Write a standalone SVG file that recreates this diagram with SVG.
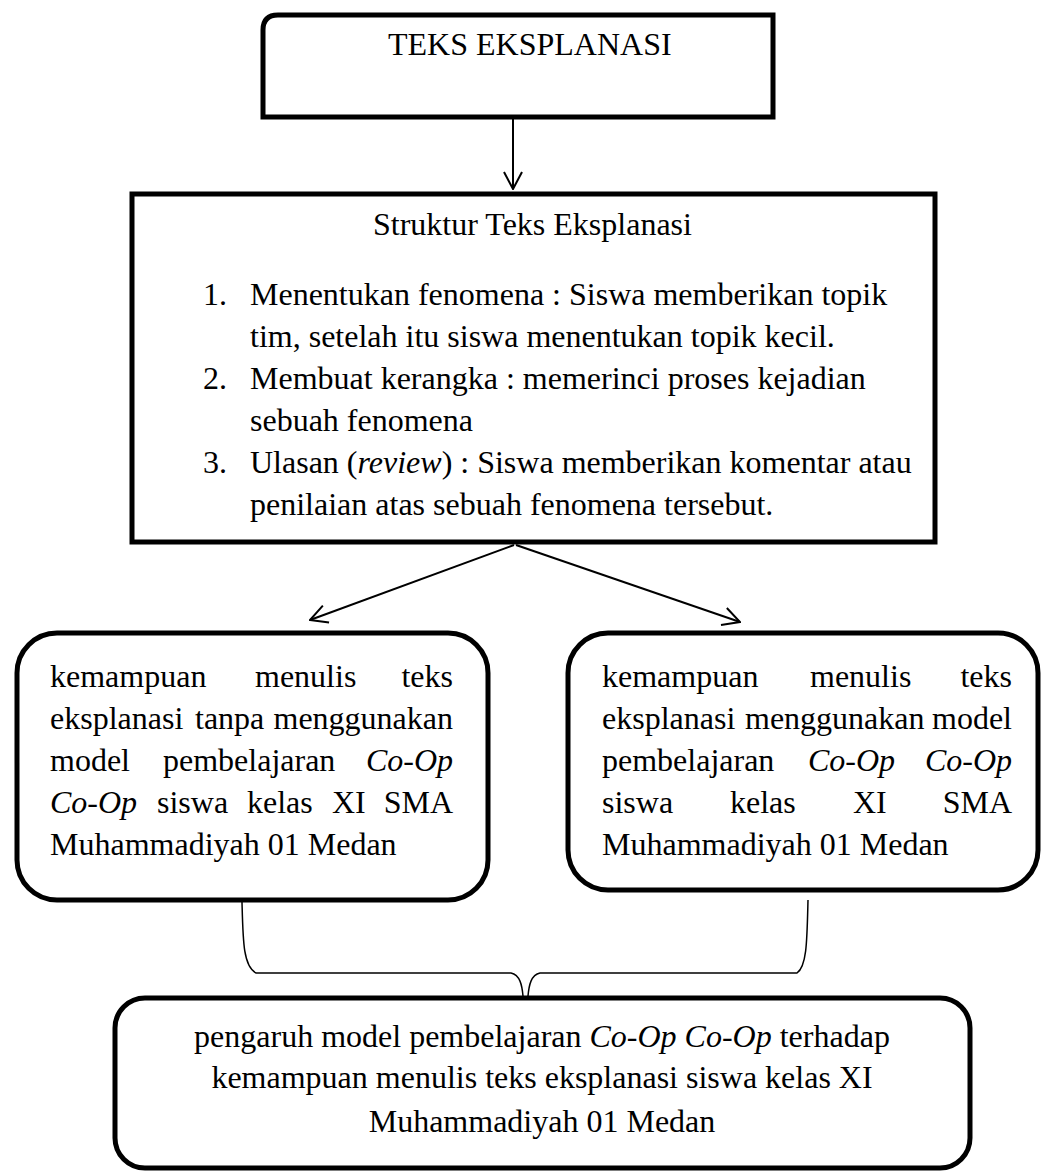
<svg xmlns="http://www.w3.org/2000/svg" width="1041" height="1171" viewBox="0 0 1041 1171">
<style>
  text { font-family: "Liberation Serif", "Times New Roman", serif; font-size: 32px; fill: #000; }
  .box { fill: #fff; stroke: #000; stroke-width: 5; }
  .conn { fill: none; stroke: #000; stroke-width: 2; }
  .brace { fill: none; stroke: #000; stroke-width: 1.5; }
  .it { font-style: italic; }
  .end { text-anchor: end; }
</style>
<defs>
  <marker id="arr" viewBox="0 0 20 20" refX="19" refY="10" markerWidth="20" markerHeight="20" markerUnits="userSpaceOnUse" orient="auto">
    <path d="M2,1 L19,10 L2,19" fill="none" stroke="#000" stroke-width="2"/>
  </marker>
</defs>
<rect width="1041" height="1171" fill="#fff"/>

<g id="connectors">
  <line class="conn" x1="513" y1="117" x2="513" y2="189" marker-end="url(#arr)"/>
  <line class="conn" x1="514" y1="545" x2="310" y2="620" marker-end="url(#arr)"/>
  <line class="conn" x1="516" y1="545" x2="740" y2="622" marker-end="url(#arr)"/>
  <path class="brace" d="M242,902 C243,940 243,966 256,973 L511,973 C520,975 522,985 523,996 M528,996 C529,985 531,975 540,973 L797,973 C807,966 807,940 808,900"/>
</g>

<g id="node-top">
  <path class="box" d="M263,117 L263,30 Q263,15 278,15 L773,15 L773,117 Z"/>
  <text x="388" y="55">TEKS EKSPLANASI</text>
</g>

<g id="node-struktur">
  <rect class="box" x="132" y="194" width="803" height="348"/>
  <text x="373" y="235">Struktur Teks Eksplanasi</text>
  <text x="203" y="305">1.</text>
  <text x="250" y="305">Menentukan fenomena : Siswa memberikan topik</text>
  <text x="250" y="347">tim, setelah itu siswa menentukan topik kecil.</text>
  <text x="203" y="389">2.</text>
  <text x="250" y="389">Membuat kerangka : memerinci proses kejadian</text>
  <text x="250" y="431">sebuah fenomena</text>
  <text x="203" y="473">3.</text>
  <text x="250" y="473">Ulasan (<tspan class="it">review</tspan>) : Siswa memberikan komentar atau</text>
  <text x="250" y="515">penilaian atas sebuah fenomena tersebut.</text>
</g>

<g id="node-left">
  <rect class="box" x="17" y="633" width="471" height="267" rx="40" ry="40"/>
  <text x="50" y="687">kemampuan</text>
  <text x="255" y="687">menulis</text>
  <text class="end" x="453" y="687">teks</text>
  <text x="50" y="729">eksplanasi</text>
  <text x="195" y="729">tanpa</text>
  <text class="end" x="453" y="729">menggunakan</text>
  <text x="50" y="771">model</text>
  <text x="163" y="771">pembelajaran</text>
  <text class="end it" x="453" y="771">Co-Op</text>
  <text class="it" x="50" y="813">Co-Op</text>
  <text x="157" y="813">siswa</text>
  <text x="247" y="813">kelas</text>
  <text x="332" y="813">XI</text>
  <text class="end" x="453" y="813">SMA</text>
  <text x="50" y="855">Muhammadiyah 01 Medan</text>
</g>

<g id="node-right">
  <rect class="box" x="568" y="633" width="470" height="257" rx="40" ry="40"/>
  <text x="602" y="687">kemampuan</text>
  <text x="810" y="687">menulis</text>
  <text class="end" x="1012" y="687">teks</text>
  <text x="602" y="729">eksplanasi</text>
  <text x="745" y="729">menggunakan</text>
  <text class="end" x="1012" y="729">model</text>
  <text x="602" y="771">pembelajaran</text>
  <text class="it" x="808" y="771">Co-Op</text>
  <text class="end it" x="1012" y="771">Co-Op</text>
  <text x="602" y="813">siswa</text>
  <text x="730" y="813">kelas</text>
  <text x="853" y="813">XI</text>
  <text class="end" x="1012" y="813">SMA</text>
  <text x="602" y="855">Muhammadiyah 01 Medan</text>
</g>

<g id="node-bottom">
  <rect class="box" x="115" y="998" width="855" height="170" rx="30" ry="30"/>
  <text x="542" y="1047" text-anchor="middle">pengaruh model pembelajaran <tspan class="it">Co-Op Co-Op</tspan> terhadap</text>
  <text x="542" y="1088" text-anchor="middle">kemampuan menulis teks eksplanasi siswa kelas XI</text>
  <text x="542" y="1132" text-anchor="middle">Muhammadiyah 01 Medan</text>
</g>
</svg>
